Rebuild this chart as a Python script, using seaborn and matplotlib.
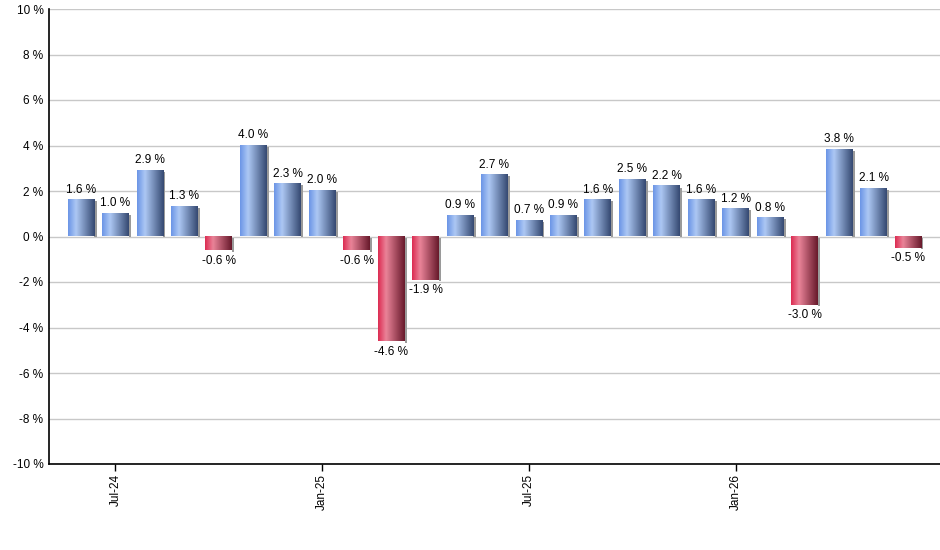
import numpy as np
import pandas as pd
import matplotlib
matplotlib.use('Agg')
import matplotlib.pyplot as plt
import seaborn as sns
from matplotlib.colors import LinearSegmentedColormap
from matplotlib.patches import Rectangle

months = ['Jun-24', 'Jul-24', 'Aug-24', 'Sep-24', 'Oct-24', 'Nov-24', 'Dec-24',
          'Jan-25', 'Feb-25', 'Mar-25', 'Apr-25', 'May-25', 'Jun-25',
          'Jul-25', 'Aug-25', 'Sep-25', 'Oct-25', 'Nov-25', 'Dec-25',
          'Jan-26', 'Feb-26', 'Mar-26', 'Apr-26', 'May-26', 'Jun-26']
returns = [1.6, 1.0, 2.9, 1.3, -0.6, 4.0, 2.3, 2.0, -0.6, -4.6, -1.9, 0.9, 2.7,
           0.7, 0.9, 1.6, 2.5, 2.2, 1.6, 1.2, 0.8, -3.0, 3.8, 2.1, -0.5]
shown_ticks = ['Jul-24', 'Jan-25', 'Jul-25', 'Jan-26']

df = pd.DataFrame({'month': months, 'ret': returns})

sns.set_style('white')
plt.rcParams['font.family'] = ['Liberation Sans', 'DejaVu Sans']
plt.rcParams['text.color'] = 'black'
plt.rcParams['xtick.color'] = 'black'
plt.rcParams['ytick.color'] = 'black'

fig = plt.figure(figsize=(9.4, 5.5), dpi=100)
ax = fig.add_axes([49 / 940, 86 / 550, 891 / 940, 455 / 550])

sns.barplot(data=df, x='month', y='ret', order=months, color='#6f9be8',
            width=0.78, linewidth=0, ax=ax, zorder=3)

blue_cmap = LinearSegmentedColormap.from_list(
    'b', [(0, '#6a94e6'), (0.3, '#adc8f4'), (1, '#344870')])
red_cmap = LinearSegmentedColormap.from_list(
    'r', [(0, '#dc2a50'), (0.3, '#ea8499'), (1, '#66182a')])
grad = np.linspace(0, 1, 256).reshape(1, -1)

for patch, val in zip(ax.patches, returns):
    x0, y0 = patch.get_x(), patch.get_y()
    w, h = patch.get_width(), patch.get_height()
    ylo, yhi = min(y0, y0 + h), max(y0, y0 + h)
    # grey drop shadow strip on the right side
    if val >= 0:
        ax.add_patch(Rectangle((x0 + w, ylo), 0.06, yhi - ylo - 0.05,
                               facecolor='#9a9a9a', edgecolor='none', zorder=2))
    else:
        ax.add_patch(Rectangle((x0 + w, ylo - 0.06), 0.06, yhi - ylo,
                               facecolor='#9a9a9a', edgecolor='none', zorder=2))
    patch.set_visible(False)
    cmap = blue_cmap if val >= 0 else red_cmap
    ax.imshow(grad, cmap=cmap, aspect='auto', extent=(x0, x0 + w, ylo, yhi),
              zorder=3, interpolation='bicubic')
    cx = x0 + w / 2
    if val >= 0:
        ax.text(cx, yhi + 0.2, f'{val:.1f} %', ha='center', va='bottom',
                fontsize=8.5, color='black', zorder=5)
    else:
        ax.text(cx, ylo - 0.2, f'{val:.1f} %', ha='center', va='top',
                fontsize=8.5, color='black', zorder=5)

ax.set_xlim(-0.93, len(months) - 1 + 0.93)
ax.set_ylim(-10, 10)
ax.set_yticks(range(-10, 11, 2))
ax.set_yticklabels([f'{v} %' for v in range(-10, 11, 2)], fontsize=8.5)
ax.yaxis.grid(True, color='#c8c8c8', linewidth=1, zorder=0)
ax.set_axisbelow(True)

tick_pos = [months.index(m) for m in shown_ticks]
ax.set_xticks(tick_pos)
ax.set_xticklabels(shown_ticks, rotation=90, fontsize=8.5)
ax.tick_params(axis='x', direction='out', length=5, width=1, pad=2, bottom=True)
ax.tick_params(axis='y', length=0, pad=4)
ax.set_xlabel('')
ax.set_ylabel('')

for side in ['top', 'right']:
    ax.spines[side].set_visible(False)
for side in ['left', 'bottom']:
    ax.spines[side].set_color('black')
    ax.spines[side].set_linewidth(1.2)

fig.savefig('out.png', dpi=100)
